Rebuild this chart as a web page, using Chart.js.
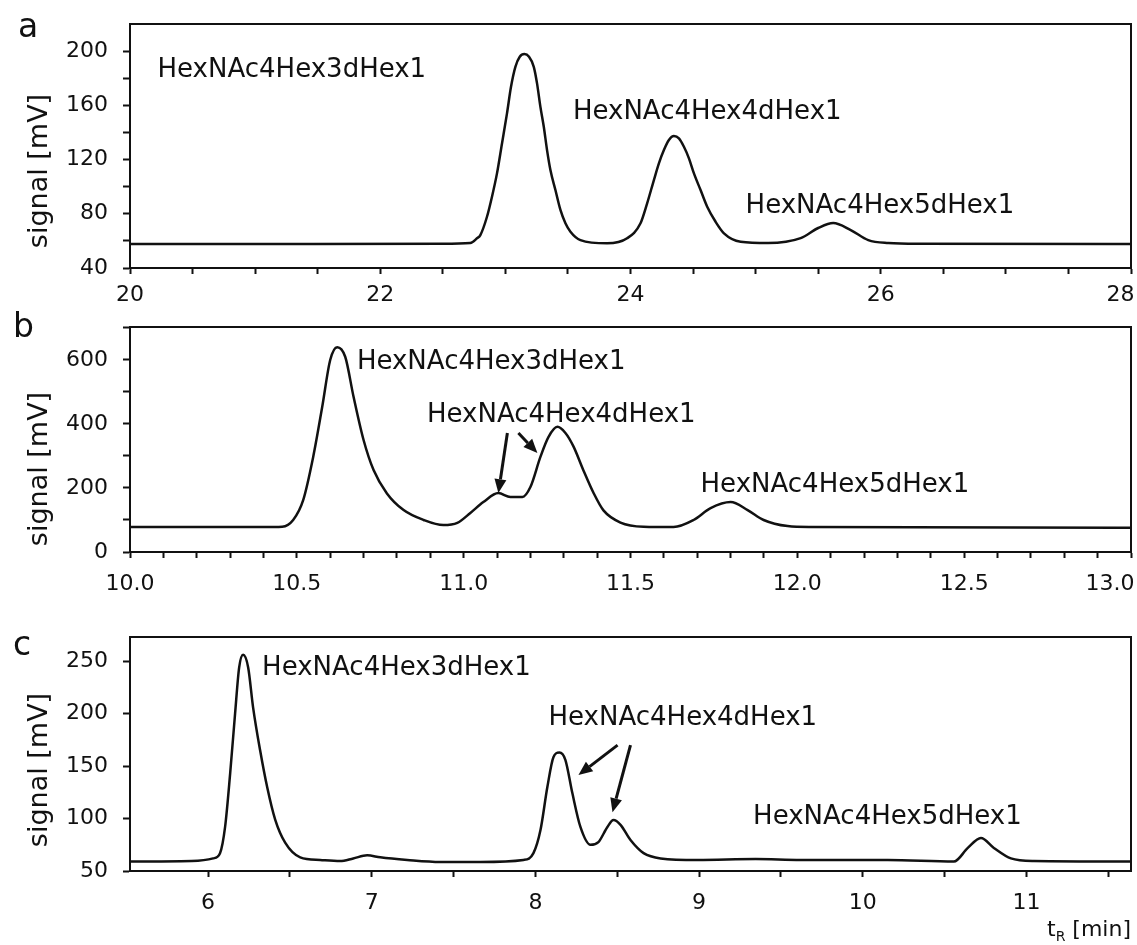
<!DOCTYPE html>
<html><head><meta charset="utf-8">
<script src="https://cdn.jsdelivr.net/npm/chart.js@4.4.1/dist/chart.umd.min.js"></script>
<style>
html,body{margin:0;padding:0;background:#fff;}
body{width:1137px;height:945px;position:relative;overflow:hidden;}
.panel{position:absolute;left:0;width:1137px;}
</style></head><body>
<div class="panel" style="top:0;height:305px"><canvas id="ca"></canvas></div>
<div class="panel" style="top:305px;height:295px"><canvas id="cb"></canvas></div>
<div class="panel" style="top:600px;height:345px"><canvas id="cc"></canvas></div>
<script>
// ---------- data ----------
// panel a
const aTime   = [20.0, 22.5, 22.72, 22.773, 22.8, 22.853, 22.893, 22.933, 22.973, 23.013, 23.045, 23.08, 23.115, 23.152, 23.189, 23.227, 23.253, 23.28, 23.307, 23.333, 23.36, 23.40, 23.44, 23.48, 23.52, 23.60, 23.813, 23.973, 24.08, 24.133, 24.187, 24.227, 24.267, 24.307, 24.347, 24.387, 24.427, 24.467, 24.507, 24.56, 24.613, 24.68, 24.747, 24.88, 25.10, 25.36, 25.50, 25.62, 25.76, 25.90, 26.06, 26.3, 28.0];
const aSignal = [57.7, 57.8, 58.4, 61.9, 64.3, 77.8, 92.6, 109.8, 131.9, 154.1, 173.7, 188.4, 195.8, 197.8, 195.8, 188.4, 176.2, 158.9, 144.2, 127, 112.3, 97.5, 82.8, 73, 66.8, 60.6, 58.2, 61.9, 73, 87.7, 104.9, 117.2, 127, 134.4, 137.3, 135.6, 129.4, 120.9, 109.8, 97.5, 85.2, 74.1, 65.6, 59.4, 58.4, 62, 69.5, 73.2, 68, 60.6, 58.4, 57.8, 57.7];
const aXTickLabels = ['20', '22', '24', '26', '28'];
const aYTickLabels = ['40', '80', '120', '160', '200'];
// panel b
const bTime   = [10.0, 10.40, 10.456, 10.489, 10.519, 10.549, 10.576, 10.600, 10.621, 10.645, 10.670, 10.700, 10.730, 10.770, 10.820, 10.880, 10.939, 10.981, 11.020, 11.059, 11.104, 11.140, 11.176, 11.200, 11.230, 11.254, 11.281, 11.305, 11.329, 11.359, 11.389, 11.419, 11.470, 11.539, 11.629, 11.689, 11.740, 11.800, 11.851, 11.899, 11.971, 12.040, 13.0];
const bSignal = [78, 78, 79, 100, 162, 297, 453, 600, 640, 610, 485, 350, 256, 183, 131, 100, 84, 91, 122, 156, 184, 172, 172, 203, 297, 359, 391, 372, 330, 255, 185, 130, 92, 79, 78, 100, 137, 156, 131, 100, 81, 78, 76];
const bXTickLabels = ['10.0', '10.5', '11.0', '11.5', '12.0', '12.5', '13.0'];
const bYTickLabels = ['0', '200', '400', '600'];
// panel c
const cTime   = [5.523, 5.90, 6.031, 6.073, 6.104, 6.135, 6.165, 6.190, 6.214, 6.245, 6.275, 6.318, 6.361, 6.410, 6.471, 6.563, 6.685, 6.807, 6.887, 6.972, 7.052, 7.217, 7.419, 7.664, 7.927, 7.988, 8.031, 8.073, 8.110, 8.147, 8.183, 8.226, 8.275, 8.336, 8.385, 8.440, 8.477, 8.520, 8.581, 8.661, 8.765, 8.991, 9.346, 9.621, 10.153, 10.557, 10.642, 10.722, 10.801, 10.905, 11.046, 11.639];
const cSignal = [59, 59.5, 62, 67, 92, 143, 200, 244, 256, 244, 206, 165, 130, 99, 77, 63, 60.5, 59.5, 62, 65, 63, 60.5, 58.6, 58.6, 60.5, 67, 89, 130, 158.5, 163, 156, 124, 92, 75, 77.6, 92, 98.5, 94, 79.5, 67, 62, 60.5, 61.4, 60.5, 60.5, 59, 72, 81.4, 72, 62, 59.5, 59];
const cXTickLabels = ['6', '7', '8', '9', '10', '11'];
const cYTickLabels = ['50', '100', '150', '200', '250'];

// ---------- drawing ----------
const FONT = "'DejaVu Sans', sans-serif";
const INK = '#111';

function stepTicks(min, max, step) {
  const out = [];
  const k0 = Math.ceil(min / step - 1e-9), k1 = Math.floor(max / step + 1e-9);
  for (let k = k0; k <= k1; k++) out.push(Math.round(k * step * 1000) / 1000);
  return out;
}
function labeler(labels, lastPad) {
  const nums = labels.map(Number);
  return function (value) {
    const i = nums.findIndex(n => Math.abs(n - value) < 1e-6);
    if (i < 0) return '';
    // keep the label at the right frame edge inside the picture
    return (lastPad && i === labels.length - 1) ? labels[i] + lastPad : labels[i];
  };
}
function drawArrow(ctx, x0, y0, x1, y1) {
  const ang = Math.atan2(y1 - y0, x1 - x0), L = 14, W = 6;
  const bx = x1 - L * Math.cos(ang), by = y1 - L * Math.sin(ang);
  ctx.beginPath(); ctx.moveTo(x0, y0); ctx.lineTo(bx, by);
  ctx.lineWidth = 3; ctx.strokeStyle = INK; ctx.stroke();
  ctx.beginPath(); ctx.moveTo(x1, y1);
  ctx.lineTo(bx + W * Math.sin(ang), by - W * Math.cos(ang));
  ctx.lineTo(bx - W * Math.sin(ang), by + W * Math.cos(ang));
  ctx.closePath(); ctx.fillStyle = INK; ctx.fill();
}

function panel(id, p) {
  const decor = {
    id: 'decor' + id,
    afterDraw(chart) {
      const ctx = chart.ctx, a = chart.chartArea, xs = chart.scales.x, ys = chart.scales.y;
      ctx.save();
      ctx.strokeStyle = INK; ctx.lineWidth = 2;
      ctx.strokeRect(a.left, a.top, a.right - a.left, a.bottom - a.top);
      ctx.fillStyle = INK;
      ctx.font = '26px ' + FONT; ctx.textAlign = 'left'; ctx.textBaseline = 'middle';
      p.notes.forEach(n => ctx.fillText(n.text, xs.getPixelForValue(n.x), ys.getPixelForValue(n.y)));
      (p.arrows || []).forEach(r => drawArrow(ctx, xs.getPixelForValue(r[0]), ys.getPixelForValue(r[1]), xs.getPixelForValue(r[2]), ys.getPixelForValue(r[3])));
      // panel letter
      ctx.fillStyle = INK; ctx.font = '33px ' + FONT; ctx.textAlign = 'left'; ctx.textBaseline = 'alphabetic';
      ctx.fillText(p.letter, p.letterX, p.letterY);
      // y title
      ctx.save(); ctx.translate(40, p.titleY); ctx.rotate(-Math.PI / 2);
      ctx.font = '27px ' + FONT; ctx.textAlign = 'center'; ctx.textBaseline = 'middle';
      ctx.fillText('signal [mV]', 0, 0); ctx.restore();
      if (p.tR) {
        ctx.textBaseline = 'alphabetic'; ctx.textAlign = 'left';
        ctx.font = '22px ' + FONT; const wt = ctx.measureText('t').width, wm = ctx.measureText(' [min]').width;
        ctx.font = '14px ' + FONT; const wr = ctx.measureText('R').width;
        let x = 1131 - wm - wr - wt; const y = p.tR;
        ctx.font = '22px ' + FONT; ctx.fillText('t', x, y); x += wt;
        ctx.font = '14px ' + FONT; ctx.fillText('R', x, y + 5); x += wr;
        ctx.font = '22px ' + FONT; ctx.fillText(' [min]', x, y);
      }
      ctx.restore();
    }
  };
  const tickFont = { family: FONT, size: 22 };
  new Chart(document.getElementById(id), {
    type: 'line',
    data: { datasets: [{ data: p.time.map((t, i) => ({ x: t, y: p.signal[i] })), borderColor: INK, borderWidth: 2.5, pointRadius: 0, fill: false, cubicInterpolationMode: 'monotone' }] },
    options: {
      responsive: true, maintainAspectRatio: false, animation: false, events: [],
      layout: { padding: { top: p.padTop, right: 6, left: 0, bottom: 0 } },
      plugins: { legend: { display: false }, tooltip: { enabled: false } },
      scales: {
        x: {
          type: 'linear', position: 'bottom', min: p.xMin, max: p.xMax,
          afterBuildTicks: s => { s.ticks = stepTicks(p.xMin, p.xMax, p.xStep).map(v => ({ value: v })); },
          afterFit: s => { s.height = p.xH; s.paddingLeft = 0; s.paddingRight = 0; },
          grid: { drawOnChartArea: false, drawTicks: true, tickLength: 6, tickWidth: 2, tickColor: INK },
          border: { display: true, color: INK, width: 2 },
          ticks: { autoSkip: false, maxRotation: 0, minRotation: 0, padding: p.xPad, color: INK, font: tickFont, callback: labeler(p.xLabels, p.lastPad) }
        },
        y: {
          type: 'linear', position: 'left', min: p.yMin, max: p.yMax,
          afterBuildTicks: s => { s.ticks = stepTicks(p.yMin, p.yMax - 1e-6, p.yStep).map(v => ({ value: v })); },
          afterFit: s => { s.width = 130; s.paddingTop = 0; s.paddingBottom = 0; },
          grid: { drawOnChartArea: false, drawTicks: true, tickLength: 7, tickWidth: 2, tickColor: INK },
          border: { display: true, color: INK, width: 2 },
          ticks: { autoSkip: false, padding: 15, color: INK, font: tickFont, callback: labeler(p.yLabels) }
        }
      }
    },
    plugins: [decor]
  });
}

panel('ca', {
  time: aTime, signal: aSignal, xLabels: aXTickLabels, yLabels: aYTickLabels,
  xMin: 20, xMax: 28, xStep: 0.5, yMin: 40, yMax: 220, yStep: 20,
  padTop: 24, xH: 37, xPad: 8, lastPad: '\u2007 ',
  letter: 'a', letterX: 18, letterY: 37, titleY: 171,
  notes: [
    { text: 'HexNAc4Hex3dHex1', x: 20.22, y: 186 },
    { text: 'HexNAc4Hex4dHex1', x: 23.54, y: 155 },
    { text: 'HexNAc4Hex5dHex1', x: 24.92, y: 85.7 }
  ]
});
panel('cb', {
  time: bTime, signal: bSignal, xLabels: bXTickLabels, yLabels: bYTickLabels,
  xMin: 10, xMax: 13, xStep: 0.1, yMin: 0, yMax: 703, yStep: 100,
  padTop: 22, xH: 48, xPad: 13, lastPad: '\u2007\u2007\u2007',
  letter: 'b', letterX: 13, letterY: 32, titleY: 164,
  notes: [
    { text: 'HexNAc4Hex3dHex1', x: 10.68, y: 594 },
    { text: 'HexNAc4Hex4dHex1', x: 10.89, y: 428 },
    { text: 'HexNAc4Hex5dHex1', x: 11.71, y: 209 }
  ],
  arrows: [[11.131, 372, 11.104, 184], [11.164, 372, 11.221, 309]]
});
panel('cc', {
  time: cTime, signal: cSignal, xLabels: cXTickLabels, yLabels: cYTickLabels,
  xMin: 5.523, xMax: 11.639, xStep: 0.5, yMin: 50, yMax: 273, yStep: 50,
  padTop: 37, xH: 74, xPad: 13,
  letter: 'c', letterX: 13, letterY: 55, titleY: 170, tR: 336,
  notes: [
    { text: 'HexNAc4Hex3dHex1', x: 6.33, y: 243 },
    { text: 'HexNAc4Hex4dHex1', x: 8.08, y: 196 },
    { text: 'HexNAc4Hex5dHex1', x: 9.33, y: 101.4 }
  ],
  arrows: [[8.502, 170, 8.263, 141.4], [8.581, 170, 8.471, 106]]
});
</script>
</body></html>
